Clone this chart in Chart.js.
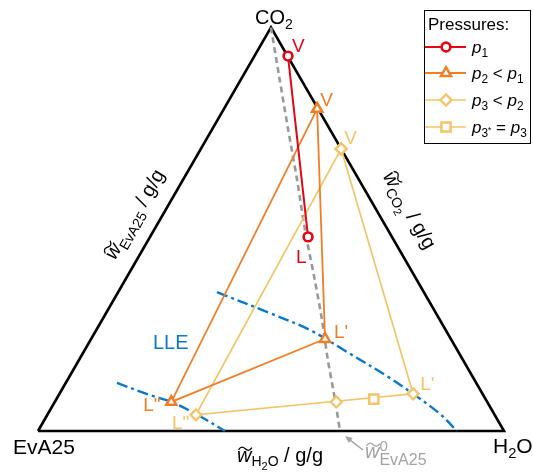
<!DOCTYPE html>
<html><head><meta charset="utf-8">
<script src="https://cdn.jsdelivr.net/npm/chart.js@4.4.1/dist/chart.umd.min.js"></script>
<style>html,body{margin:0;padding:0;background:#fff}canvas{display:block}</style>
</head><body>
<canvas id="c" width="533" height="473"></canvas>
<script>
// Ternary compositions as [wCO2, wH2O]  (wEvA25 = 1 - wCO2 - wH2O)
const corners = [[0, 0], [1, 0], [0, 1], [0, 0]];           // EvA25, CO2, H2O
const p1Points = [[0.929, 0.072], [0.481, 0.339]];          // V, L
const p2Points = [[0.798, 0.200], [0.228, 0.502], [0.072, 0.250], [0.798, 0.200]]; // V, L', L'', V
const p3Points = [[0.699, 0.301], [0.092, 0.759], [0.040, 0.319], [0.699, 0.301]]; // V, L', L'', V
const p3Feed = [[0.072, 0.604]];
const p3StarPoints = [[0.079, 0.681]];
const dilutionLine = [[1, 0], [0.882, 0.076], [0.746, 0.164], [0.622, 0.245], [0.498, 0.324],
                      [0.374, 0.407], [0.275, 0.472], [0.176, 0.534], [0.077, 0.599], [0, 0.648]];
const lleUpper = [[0.344, 0.212], [0.292, 0.352], [0.250, 0.459], [0.196, 0.565], [0.131, 0.690],
                  [0.092, 0.759], [0.042, 0.842], [0, 0.899]];
const lleLower = [[0.119, 0.110], [0.089, 0.196], [0.072, 0.250], [0.042, 0.318], [0, 0.401]];

const RED = '#E30613', ORANGE = '#F07E26', YELLOW = '#F3C468', BLUE = '#0A78C8', GREY = '#999999';
const FONT = '"Liberation Sans", Arial, Helvetica, sans-serif';
const S3 = Math.sqrt(3) / 2;
const toXY = ([c, h]) => ({ x: h + c / 2, y: c * S3 });

function line(data, o) {
  return Object.assign({ data: data.map(toXY), showLine: true, fill: false, pointRadius: 0,
    tension: 0, clip: false, borderCapStyle: 'butt', pointBackgroundColor: '#fff' }, o);
}

const datasets = [
  line(corners, { borderColor: '#000', borderWidth: 2.6, borderJoinStyle: 'miter', order: 10 }),
  line(dilutionLine, { borderColor: GREY, borderWidth: 2.6, borderDash: [6, 4], tension: 0.3, order: 9 }),
  line(lleUpper, { borderColor: BLUE, borderWidth: 2.4, borderDash: [11, 4, 3, 4], tension: 0.35, order: 8 }),
  line(lleLower, { borderColor: BLUE, borderWidth: 2.4, borderDash: [11, 4, 3, 4], tension: 0.35, order: 8 }),
  line(p3Points, { borderColor: YELLOW, borderWidth: 1.7, pointStyle: 'rectRot', pointRadius: 5.5,
    pointBorderWidth: 2.3, pointBorderColor: YELLOW, order: 5 }),
  line(p3Feed, { showLine: false, borderColor: YELLOW, pointStyle: 'rectRot', pointRadius: 5.5,
    pointBorderWidth: 2.3, pointBorderColor: YELLOW, order: 4 }),
  line(p3StarPoints, { showLine: false, borderColor: YELLOW, pointStyle: 'rect', pointRadius: 6.5,
    pointBorderWidth: 2.5, pointBorderColor: YELLOW, order: 4 }),
  line(p2Points, { borderColor: ORANGE, borderWidth: 1.8, pointStyle: 'triangle', pointRadius: 5.8,
    pointBorderWidth: 2.5, pointBorderColor: ORANGE, order: 3 }),
  line(p1Points, { borderColor: RED, borderWidth: 2, pointStyle: 'circle', pointRadius: 4.4,
    pointBorderWidth: 2.6, pointBorderColor: RED, order: 2 })
];

function drawTilde(ctx, x, y, w) {
  ctx.save();
  ctx.beginPath();
  ctx.lineWidth = 1.3;
  ctx.strokeStyle = ctx.fillStyle;
  const a = 1.8;
  ctx.moveTo(x, y + a * 0.6);
  ctx.bezierCurveTo(x + w * 0.2, y - a * 1.6, x + w * 0.35, y - a, x + w * 0.5, y);
  ctx.bezierCurveTo(x + w * 0.65, y + a, x + w * 0.8, y + a * 1.6, x + w, y - a * 0.6);
  ctx.stroke();
  ctx.restore();
}

// parts: {t, it, lvl: 0 main, 1 sub, 2 subsub, -1 sup, 3 star, tilde, noAdv, size}
function rich(ctx, parts, x, y, size, draw) {
  let cx = x;
  for (const p of parts) {
    let fs = size, dy = 0;
    if (p.lvl === 1) { fs = size * 0.7; dy = size * 0.22; }
    if (p.lvl === 2) { fs = size * 0.55; dy = size * 0.38; }
    if (p.lvl === -1) { fs = size * 0.7; dy = -size * 0.45; }
    if (p.lvl === 3) { fs = size * 0.5; dy = -size * 0.02; }
    if (p.size) fs = p.size;
    ctx.font = (p.it ? 'italic ' : '') + fs + 'px ' + FONT;
    const w = ctx.measureText(p.t).width;
    if (draw) {
      ctx.fillText(p.t, cx + (p.dx || 0), y + dy + (p.dy || 0));
      if (p.tilde) drawTilde(ctx, cx + 1.5, y - size * 0.66, w - 1);
    }
    if (!p.noAdv) cx += w + (p.dx || 0);
  }
  return cx - x;
}

function richCentered(ctx, parts, cx, cy, size, angle, color) {
  ctx.save();
  ctx.fillStyle = color;
  ctx.translate(cx, cy);
  ctx.rotate(angle);
  const w = rich(ctx, parts, 0, 0, size, false);
  rich(ctx, parts, -w / 2, size * 0.35, size, true);
  ctx.restore();
}

function legendMarker(ctx, style, r, bw, color, x, y) {
  ctx.save();
  ctx.fillStyle = '#fff';
  ctx.strokeStyle = color;
  ctx.lineWidth = bw;
  if (Chart.helpers && Chart.helpers.drawPoint) {
    Chart.helpers.drawPoint(ctx, { pointStyle: style, radius: r, borderWidth: bw, rotation: 0 }, x, y);
  }
  ctx.restore();
}

const annot = {
  id: 'annot',
  afterDatasetsDraw(chart) {
    const ctx = chart.ctx;
    const xs = chart.scales.x, ys = chart.scales.y;
    const px = (pt) => { const q = toXY(pt); return [xs.getPixelForValue(q.x), ys.getPixelForValue(q.y)]; };
    ctx.save();
    ctx.textBaseline = 'alphabetic';
    ctx.textAlign = 'left';

    // point labels
    const lab = (pt, txt, dx, dy, color) => {
      const [x, y] = px(pt);
      ctx.fillStyle = color;
      ctx.font = '19px ' + FONT;
      ctx.fillText(txt, x + dx, y + dy);
    };
    lab(p1Points[0], 'V', 4, -4, RED);
    lab(p1Points[1], 'L', -12, 26, RED);
    lab(p2Points[0], 'V', 3, -3, ORANGE);
    lab(p2Points[1], "L'", 9, -1, ORANGE);
    lab(p2Points[2], 'L"', -28, 9, ORANGE);
    lab(p3Points[0], 'V', 3, -5, YELLOW);
    lab(p3Points[1], "L'", 7, -4, YELLOW);
    lab(p3Points[2], 'L"', -24, 14, YELLOW);

    ctx.fillStyle = BLUE;
    ctx.font = '20px ' + FONT;
    ctx.fillText('LLE', 153, 349);

    // corner labels
    ctx.fillStyle = '#000';
    const [ax, ay] = px(corners[1]);
    const [lx, ly] = px(corners[0]);
    const [rx, ry] = px(corners[2]);
    rich(ctx, [{ t: 'CO' }, { t: '2', lvl: 1 }], ax - 16, ay - 3, 20, true);
    rich(ctx, [{ t: 'EvA25' }], lx - 25, ly + 23, 21, true);
    rich(ctx, [{ t: 'H' }, { t: '2', lvl: 1 }, { t: 'O' }], rx - 11, ry + 22, 21, true);

    // axis labels
    richCentered(ctx, [{ t: 'w', it: true, tilde: true }, { t: 'EvA25', lvl: 1, dy: 1 }, { t: ' / g/g' }],
      134, 214, 20, -Math.PI / 3, '#000');
    richCentered(ctx, [{ t: 'w', it: true, tilde: true }, { t: 'CO', lvl: 1, dy: 1 }, { t: '2', lvl: 2, dy: 1 }, { t: ' / g/g' }],
      410, 210, 20, Math.PI / 3, '#000');
    ctx.fillStyle = '#000';
    rich(ctx, [{ t: 'w', it: true, tilde: true }, { t: 'H', lvl: 1 }, { t: '2', lvl: 2 }, { t: 'O', lvl: 1 }, { t: ' / g/g' }],
      237, 462, 20, true);

    // grey label + arrow
    const [gx, gy] = px(dilutionLine[dilutionLine.length - 1]);
    ctx.fillStyle = '#A3A3A3';
    rich(ctx, [{ t: 'w', it: true, tilde: true }, { t: '0', lvl: -1, noAdv: true, size: 15, dx: 0, dy: 2 },
      { t: 'EvA25', lvl: 1, size: 16, dy: 3 }], 365, 458, 20, true);
    ctx.strokeStyle = '#A3A3A3';
    ctx.fillStyle = '#A3A3A3';
    ctx.lineWidth = 1.5;
    const tx = gx + 5, ty = gy + 5, sx = gx + 23, sy = gy + 19;
    ctx.beginPath(); ctx.moveTo(sx, sy); ctx.lineTo(tx + 3, ty + 2.4); ctx.stroke();
    const ang = Math.atan2(sy - ty, sx - tx);
    ctx.beginPath();
    ctx.moveTo(tx, ty);
    ctx.lineTo(tx + 8 * Math.cos(ang - 0.4), ty + 8 * Math.sin(ang - 0.4));
    ctx.lineTo(tx + 8 * Math.cos(ang + 0.4), ty + 8 * Math.sin(ang + 0.4));
    ctx.closePath(); ctx.fill();

    // legend
    ctx.strokeStyle = '#000';
    ctx.lineWidth = 1;
    ctx.strokeRect(424.5, 10.5, 106, 133);
    ctx.fillStyle = '#000';
    ctx.font = '17px ' + FONT;
    ctx.fillText('Pressures:', 428, 30);
    const entries = [
      { c: RED, s: 'circle', r: 4.4, bw: 2.6, y: 47, lw: 2,
        t: [{ t: 'p', it: true }, { t: '1', lvl: 1 }] },
      { c: ORANGE, s: 'triangle', r: 5.8, bw: 2.5, y: 73, lw: 1.8,
        t: [{ t: 'p', it: true }, { t: '2', lvl: 1 }, { t: ' < ' }, { t: 'p', it: true }, { t: '1', lvl: 1 }] },
      { c: YELLOW, s: 'rectRot', r: 5.5, bw: 2.3, y: 100, lw: 1.7,
        t: [{ t: 'p', it: true }, { t: '3', lvl: 1 }, { t: ' < ' }, { t: 'p', it: true }, { t: '2', lvl: 1 }] },
      { c: YELLOW, s: 'rect', r: 6.5, bw: 2.5, y: 127, lw: 1.7,
        t: [{ t: 'p', it: true }, { t: '3', lvl: 1 }, { t: '*', lvl: 3 }, { t: ' = ' }, { t: 'p', it: true }, { t: '3', lvl: 1 }] }
    ];
    for (const e of entries) {
      ctx.strokeStyle = e.c;
      ctx.lineWidth = e.lw;
      ctx.beginPath(); ctx.moveTo(425, e.y); ctx.lineTo(466, e.y); ctx.stroke();
      legendMarker(ctx, e.s, e.r, e.bw, e.c, 446, e.y);
      ctx.fillStyle = '#000';
      rich(ctx, e.t, 472, e.y + 6, 17, true);
    }
    ctx.restore();
  }
};

new Chart(document.getElementById('c'), {
  type: 'scatter',
  data: { datasets },
  options: {
    responsive: false,
    animation: false,
    events: [],
    layout: { padding: 0, autoPadding: false },
    plugins: { legend: { display: false }, tooltip: { enabled: false } },
    scales: {
      x: { type: 'linear', display: false, min: -38 / 466, max: 495 / 466 },
      y: { type: 'linear', display: false, min: -42 / 466, max: 431 / 466 }
    }
  },
  plugins: [annot]
});
</script>
</body></html>
